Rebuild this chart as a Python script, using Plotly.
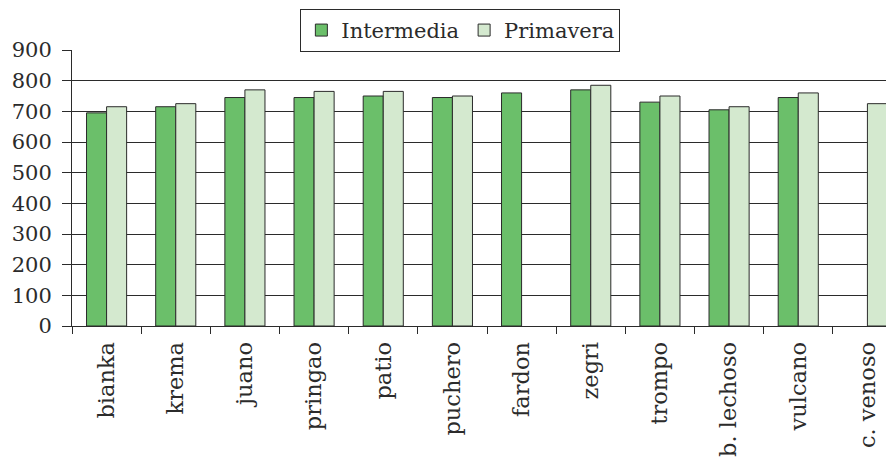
import plotly.graph_objects as go

# data
varieties = ["bianka", "krema", "juano", "pringao", "patio", "puchero",
             "fardon", "zegri", "trompo", "b. lechoso", "vulcano", "c. venoso"]
intermedia = [695, 715, 745, 745, 750, 745, 760, 770, 730, 705, 745, None]
primavera = [715, 725, 770, 765, 765, 750, None, 785, 750, 715, 760, 725]

FONT = "DejaVu Serif, Liberation Serif, serif"
INK = "#2b2b2b"

fig = go.Figure()
fig.add_trace(go.Bar(
    x=varieties, y=intermedia, name="Intermedia",
    marker={"color": "#6bbf6a", "line": {"color": INK, "width": 1}},
))
fig.add_trace(go.Bar(
    x=varieties, y=primavera, name="Primavera",
    marker={"color": "#d4e9cf", "line": {"color": INK, "width": 1}},
))

# the page body adds an 8px offset, so margins are set 8px smaller
fig.update_layout(
    width=894, height=461,
    margin={"l": 64, "r": 0, "t": 42, "b": 143, "autoexpand": False},
    paper_bgcolor="white", plot_bgcolor="white",
    barmode="group", bargap=0.42, bargroupgap=0,
    font={"family": FONT, "size": 20, "color": INK},
    showlegend=True,
    legend={
        "orientation": "h", "xref": "container", "yref": "container",
        "x": 0.506, "xanchor": "center", "y": 0.998, "yanchor": "top",
        "bordercolor": INK, "borderwidth": 1, "bgcolor": "white",
        "font": {"family": FONT, "size": 21, "color": INK},
        "itemwidth": 30, "tracegroupgap": 0,
    },
)

fig.update_xaxes(
    range=[-0.5, 11.5], automargin=False,
    showline=True, linecolor=INK, linewidth=1,
    ticks="outside", tickson="boundaries", ticklen=7, tickcolor=INK,
    tickangle=-90, ticklabelstandoff=6,
    tickfont={"family": FONT, "size": 22.5, "color": INK},
    showgrid=False,
)
fig.update_yaxes(
    range=[0, 900], dtick=100, automargin=False,
    showline=True, linecolor=INK, linewidth=1,
    ticks="outside", ticklen=9, tickcolor=INK, ticklabelstandoff=6,
    showgrid=True, gridcolor=INK, gridwidth=1,
    tickfont={"family": FONT, "size": 21, "color": INK},
    zeroline=False,
)

fig.write_html("out.html")
